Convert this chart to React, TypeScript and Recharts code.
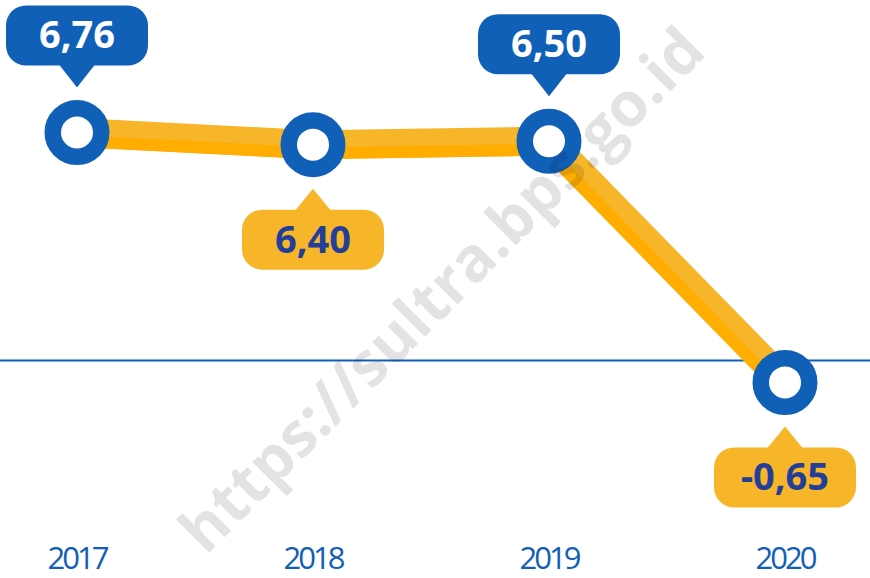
import React from 'react';
import { LineChart, Line, XAxis, YAxis, ReferenceLine, LabelList } from 'recharts';

const years = ['2017', '2018', '2019', '2020'];
const growth = [6.76, 6.4, 6.5, -0.65];
const valueLabels = ['6,76', '6,40', '6,50', '-0,65'];

const data = years.map((y, i) => ({ year: y, value: growth[i], label: valueLabels[i] }));

const BLUE = '#1160B8';
const LIGHT = '#F7B52A';
const DARK = '#FFAD00';
const NAVY = '#233E99';

const Dot = (props: any) => {
  const { cx, cy, index } = props;
  if (cx == null || cy == null) return null;
  return <circle key={`dot-${index}`} cx={cx} cy={cy} r={24.25} fill="#fff" stroke={BLUE} strokeWidth={16.5} />;
};

const Callout = (props: any) => {
  const { x, y, index } = props;
  if (x == null || y == null) return null;
  const above = index % 2 === 0;
  const w = 142;
  const h = 60;
  const left = x - w / 2;
  const top = above ? y - 127 : y + 65;
  const fill = above ? BLUE : LIGHT;
  const textFill = above ? '#fff' : NAVY;
  const tri = above
    ? `${x - 18},${y - 68} ${x + 18},${y - 68} ${x},${y - 45}`
    : `${x - 18},${y + 66} ${x + 18},${y + 66} ${x},${y + 44}`;
  return (
    <g>
      <rect x={left} y={top} width={w} height={h} rx={20} ry={20} fill={fill} />
      <polygon points={tri} fill={fill} />
      <text
        x={x}
        y={top + 43}
        textAnchor="middle"
        fill={textFill}
        fontFamily="'Noto Sans', sans-serif"
        fontWeight={700}
        fontSize={38}
      >
        {data[index].label}
      </text>
    </g>
  );
};

const Tick = (props: any) => {
  const { x, y, payload } = props;
  return (
    <text
      x={x}
      y={y + 39}
      textAnchor="middle"
      fill={BLUE}
      fontFamily="'Open Sans', sans-serif"
      fontWeight={400}
      fontSize={31}
      letterSpacing={-3}
    >
      {payload.value}
    </text>
  );
};

export default function App() {
  return (
    <div style={{ position: 'absolute', left: 0, top: 0, width: 870, height: 578, background: '#fff' }}>
      <style>{`.dark-line .recharts-line-curve { transform: translate(-3px, 8.5px); }`}</style>
      <LineChart width={870} height={578} data={data} margin={{ top: 0, right: 0, bottom: 0, left: 0 }}>
        <XAxis
          dataKey="year"
          height={48}
          axisLine={false}
          tickLine={false}
          tickSize={0}
          tickMargin={0}
          padding={{ left: 77, right: 85 }}
          tick={<Tick />}
          interval={0}
        />
        <YAxis hide type="number" domain={[-5.025, 10.688]} allowDataOverflow />
        <ReferenceLine y={0} stroke={BLUE} strokeWidth={2} />
        <Line
          type="linear"
          dataKey="value"
          stroke={LIGHT}
          strokeWidth={29}
          strokeLinejoin="round"
          dot={false}
          activeDot={false}
          isAnimationActive={false}
        />
        <Line
          className="dark-line"
          type="linear"
          dataKey="value"
          stroke={DARK}
          strokeWidth={12}
          strokeLinejoin="round"
          dot={false}
          activeDot={false}
          isAnimationActive={false}
        />
        <Line
          type="linear"
          dataKey="value"
          stroke="none"
          strokeWidth={0}
          dot={<Dot />}
          activeDot={false}
          isAnimationActive={false}
        >
          <LabelList dataKey="value" content={<Callout />} />
        </Line>
      </LineChart>
      <svg
        width={870}
        height={578}
        style={{ position: 'absolute', left: 0, top: 0, pointerEvents: 'none' }}
      >
        <text
          x={440}
          y={288}
          textAnchor="middle"
          dominantBaseline="central"
          transform="rotate(-45 440 288)"
          fill="rgba(0,0,0,0.11)"
          fontFamily="'Open Sans', sans-serif"
          fontWeight={700}
          fontSize={62}
        >
          https://sultra.bps.go.id
        </text>
      </svg>
    </div>
  );
}
